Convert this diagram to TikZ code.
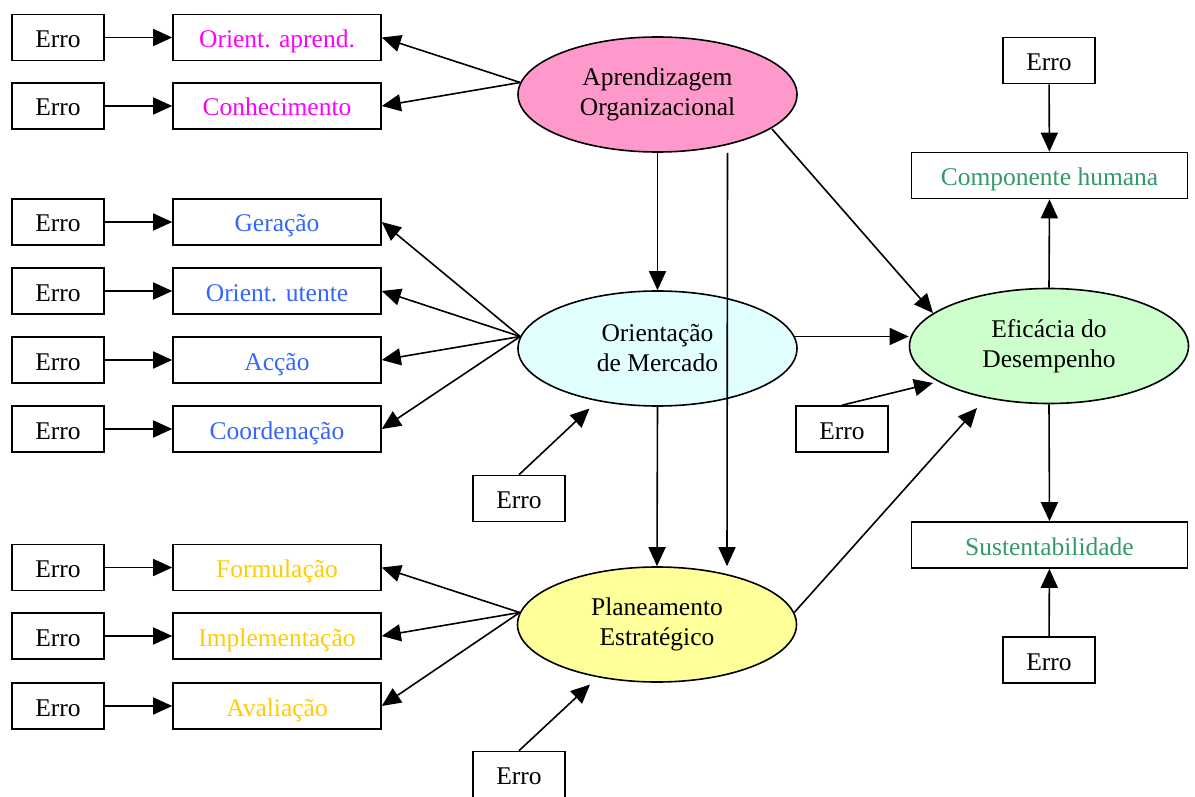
\documentclass[tikz,border=0pt]{standalone}
\usepackage{fontspec}
\setmainfont{Liberation Serif}
\usetikzlibrary{arrows.meta,shapes.geometric}
\definecolor{magenta}{HTML}{FF00FF}
\definecolor{azul}{HTML}{3366FF}
\definecolor{ouro}{HTML}{FFCC00}
\definecolor{verde}{HTML}{339966}
\definecolor{rosa}{HTML}{FF99CC}
\definecolor{ciano}{HTML}{E1FFFF}
\definecolor{amarelo}{HTML}{FFFF99}
\definecolor{verdeclaro}{HTML}{CCFFCC}
\begin{document}
\begin{tikzpicture}[x=1pt, y=-1pt, line width=1.6pt,
    font=\fontsize{25.5}{30}\selectfont,
    caixa/.style={draw, minimum height=46pt, inner sep=0pt, text height=20pt, text depth=0pt},
    erro/.style={caixa, minimum width=92pt},
    ind/.style={caixa, minimum width=208pt},
    res/.style={caixa, minimum width=276pt, text=verde},
    lat/.style={ellipse, draw, minimum width=279pt, minimum height=115pt, inner sep=0pt, align=center},
    seta/.style={-{Triangle[length=19pt,width=17pt]}}]
  \useasboundingbox (0,0) rectangle (1195,797);

  % latent variables
  \node[lat, fill=rosa] (apr) at (657.5, 94.5) {Aprendizagem\\Organizacional};
  \node[lat, fill=ciano] (mer) at (657.5, 348.5) {Orientação\\de Mercado};
  \node[lat, fill=amarelo] (pla) at (657, 624.5) {Planeamento\\Estratégico};
  \node[lat, fill=verdeclaro] (efi) at (1049, 346) {Eficácia do\\Desempenho};

  % indicators
  \node[ind, text=magenta] (oap) at (277, 37.5) {Orient. aprend.};
  \node[ind, text=magenta] (con) at (277, 106) {Conhecimento};
  \node[ind, text=azul] (ger) at (277, 222) {Geração};
  \node[ind, text=azul] (out) at (277, 291) {Orient. utente};
  \node[ind, text=azul] (acc) at (277, 360) {Acção};
  \node[ind, text=azul] (coo) at (277, 429) {Coordenação};
  \node[ind, text=ouro] (for) at (277, 567.5) {Formulação};
  \node[ind, text=ouro] (imp) at (277, 636) {Implementação};
  \node[ind, text=ouro] (ava) at (277, 706) {Avaliação};
  \node[res] (hum) at (1049.5, 175.5) {Componente humana};
  \node[res] (sus) at (1049.5, 545) {Sustentabilidade};

  % errors
  \node[erro] (e1) at (58, 37.5) {Erro};
  \node[erro] (e2) at (58, 106) {Erro};
  \node[erro] (e3) at (58, 222) {Erro};
  \node[erro] (e4) at (58, 291) {Erro};
  \node[erro] (e5) at (58, 360) {Erro};
  \node[erro] (e6) at (58, 429) {Erro};
  \node[erro] (e7) at (58, 567.5) {Erro};
  \node[erro] (e8) at (58, 636) {Erro};
  \node[erro] (e9) at (58, 706) {Erro};
  \node[erro] (eh) at (1049, 60.5) {Erro};
  \node[erro] (es) at (1049, 660) {Erro};
  \node[erro] (ee) at (842, 429) {Erro};
  \node[erro] (em) at (519, 498.5) {Erro};
  \node[erro] (ep) at (519, 774.5) {Erro};

  \draw[seta] (e1) -- (oap);
  \draw[seta] (e2) -- (con);
  \draw[seta] (e3) -- (ger);
  \draw[seta] (e4) -- (out);
  \draw[seta] (e5) -- (acc);
  \draw[seta] (e6) -- (coo);
  \draw[seta] (e7) -- (for);
  \draw[seta] (e8) -- (imp);
  \draw[seta] (e9) -- (ava);

  \draw[seta] (apr.175) -- (oap.east);
  \draw[seta] (apr.175) -- (con.east);
  \draw[seta] (mer.175) -- (ger.east);
  \draw[seta] (mer.175) -- (out.east);
  \draw[seta] (mer.175) -- (acc.east);
  \draw[seta] (mer.175) -- (coo.east);
  \draw[seta] (pla.175) -- (for.east);
  \draw[seta] (pla.175) -- (imp.east);
  \draw[seta] (pla.175) -- (ava.east);

  % structural paths
  \draw[seta] (apr.south) -- (mer.north);
  \draw[seta] (mer.south) -- (pla.north);
  \draw[seta] ([xshift=70pt]apr.south) -- ([xshift=70pt]pla.north);
  \draw[seta] ([shift={(114.5,34.5)}]apr.center) -- ([shift={(-116,-33)}]efi.center);
  \draw[seta] (mer.5) -- (efi.west |- mer.5);
  \draw[seta] (pla.5) -- ([shift={(-72,62)}]efi.center);
  \draw[seta] (efi.north) -- (hum.south);
  \draw[seta] (efi.south) -- (sus.north);
  \draw[seta] (eh) -- (hum);
  \draw[seta] (es) -- (sus);
  \draw[seta] (ee.north) -- ([shift={(-116,37)}]efi.center);
  \draw[seta] (em.north) -- ([shift={(-68,60)}]mer.center);
  \draw[seta] (ep.north) -- ([shift={(-67,60)}]pla.center);
\end{tikzpicture}
\end{document}
